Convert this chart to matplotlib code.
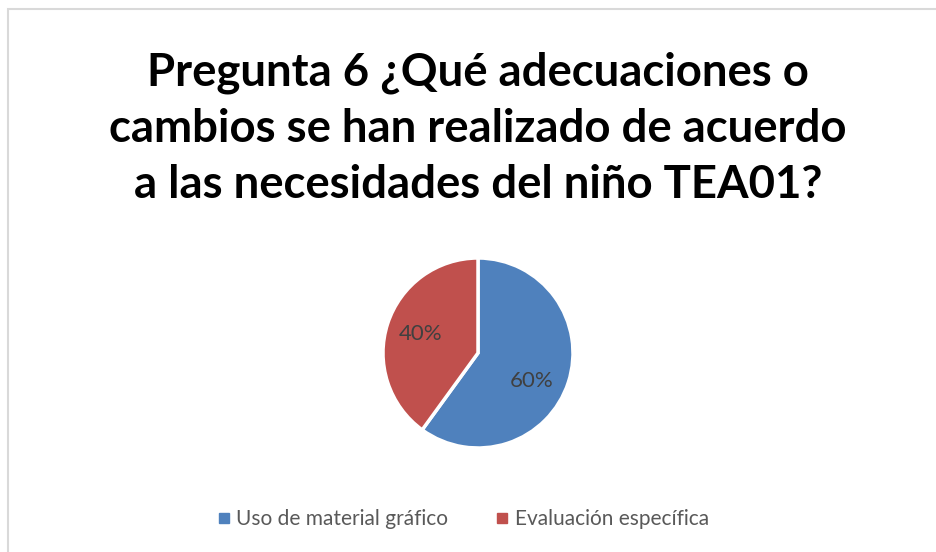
import matplotlib
matplotlib.use("Agg")
import matplotlib.pyplot as plt
from matplotlib.patches import Rectangle
from matplotlib.lines import Line2D

categories = ["Uso de material gráfico", "Evaluación específica"]
values = [60, 40]
colors = ["#4F81BD", "#C0504D"]
title_lines = ["Pregunta 6 ¿Qué adecuaciones o",
               "cambios se han realizado de acuerdo",
               "a las necesidades del niño TEA01?"]

plt.rcParams['font.family'] = ['Lato', 'DejaVu Sans']

W, H = 936, 552
fig = plt.figure(figsize=(W/100, H/100), dpi=100)
fig.patch.set_facecolor("white")

# border
fig.patches.append(Rectangle((8/W, -0.1), 1.2, (H-9)/H + 0.1, transform=fig.transFigure,
                             fill=False, edgecolor="#D9D9D9", linewidth=1.5))

for i, line in enumerate(title_lines):
    fig.text(478/W, 1-(86 + 56*i)/H, line, ha="center", va="baseline", fontsize=32.8,
             fontweight="bold", color="black")

cx, cy, r = 478, 353, 95
ax = fig.add_axes([(cx-r)/W, (H-cy-r)/H, 2*r/W, 2*r/H])
wedges, texts, autotexts = ax.pie(values, colors=colors, startangle=90, counterclock=False,
                                  autopct=lambda p: f"{p:.0f}%", pctdistance=0.64,
                                  wedgeprops=dict(edgecolor="white", linewidth=2.5),
                                  textprops=dict(color="#404040", fontsize=16))
# Excel-style label placement: nudge toward the slice's visual centre
x0, y0 = autotexts[0].get_position()
autotexts[0].set_position((x0 - 0.04, y0 - 0.1))
ax.set_xlim(-1, 1); ax.set_ylim(-1, 1)
ax.set_aspect("auto")
ax.axis("off")

handles = [Line2D([], [], marker="s", linestyle="", markersize=7, markerfacecolor=c,
                  markeredgecolor=c) for c in colors]
fig.legend(handles, categories, loc="center", bbox_to_anchor=(462/W, 1-519/H), ncol=2,
           frameon=False, fontsize=15, labelcolor="#595959", handletextpad=0.2,
           columnspacing=2.2, handlelength=0.8)

fig.savefig("out.png", dpi=100)
